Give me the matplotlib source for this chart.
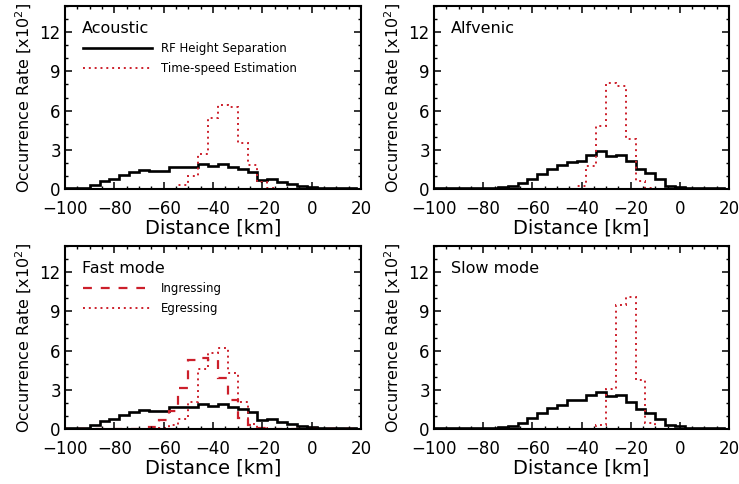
import numpy as np
import matplotlib
matplotlib.use("Agg")
from matplotlib import pyplot as plt
from matplotlib.ticker import MultipleLocator

plt.rcParams['font.family'] = ['DejaVu Sans']
plt.rcParams['axes.unicode_minus'] = True

# histogram bins: 4 km wide, centred on -100, -96, ..., 20
bin_edges = np.arange(-102, 23, 4)

# occurrence rate [x10^2], one value per bin
rf_acoustic = [0.08, 0.08, 0.1, 0.33, 0.64, 0.8, 1.05, 1.28, 1.44, 1.38, 1.38,
               1.67, 1.67, 1.67, 1.92, 1.78, 1.92, 1.72, 1.5, 1.28, 0.72,
               0.8, 0.55, 0.35, 0.2, 0.12, 0.08, 0.06, 0.05, 0.04, 0.03]
ts_acoustic = [0.02, 0.02, 0.02, 0.02, 0.02, 0.02, 0.02, 0.02, 0.02, 0.02, 0.02,
               0.02, 0.3, 1.0, 2.7, 5.4, 6.45, 6.25, 3.5, 1.8, 0.5,
               0.08, 0.02, 0.02, 0.02, 0.02, 0.02, 0.02, 0.02, 0.02, 0.02]

rf_alfvenic = [0.05, 0.05, 0.06, 0.07, 0.08, 0.08, 0.1, 0.12, 0.23, 0.44, 0.8,
               1.15, 1.5, 1.85, 2.1, 2.15, 2.6, 2.87, 2.55, 2.6, 2.15,
               1.5, 1.25, 0.75, 0.25, 0.18, 0.1, 0.08, 0.05, 0.04, 0.03]
ts_alfvenic = [0.02, 0.02, 0.02, 0.02, 0.02, 0.02, 0.02, 0.02, 0.02, 0.02, 0.02,
               0.02, 0.02, 0.02, 0.02, 0.2, 1.75, 4.8, 8.1, 7.9, 3.8,
               0.6, 0.1, 0.02, 0.02, 0.02, 0.02, 0.02, 0.02, 0.02, 0.02]

rf_fast = rf_acoustic
ingress_fast = [0.02, 0.02, 0.02, 0.02, 0.02, 0.02, 0.02, 0.02, 0.02, 0.15, 0.7,
                1.35, 3.1, 5.3, 5.4, 5.25, 3.9, 2.25, 0.85, 0.3, 0.05,
                0.02, 0.02, 0.02, 0.02, 0.02, 0.02, 0.02, 0.02, 0.02, 0.02]
egress_fast = [0.02, 0.02, 0.02, 0.02, 0.02, 0.02, 0.02, 0.02, 0.02, 0.02, 0.1,
               0.3, 0.8, 2.1, 4.6, 5.8, 6.2, 4.3, 2.1, 0.4, 0.1,
               0.02, 0.02, 0.02, 0.02, 0.02, 0.02, 0.02, 0.02, 0.02, 0.02]

rf_slow = [0.05, 0.05, 0.06, 0.07, 0.08, 0.08, 0.1, 0.12, 0.25, 0.45, 0.85,
           1.2, 1.6, 1.85, 2.2, 2.2, 2.6, 2.8, 2.55, 2.6, 2.1,
           1.5, 1.2, 0.75, 0.3, 0.2, 0.1, 0.08, 0.05, 0.04, 0.03]
ts_slow = [0.02, 0.02, 0.02, 0.02, 0.02, 0.02, 0.02, 0.02, 0.02, 0.02, 0.02,
           0.02, 0.02, 0.02, 0.02, 0.02, 0.02, 0.3, 3.05, 9.45, 10.1,
           3.77, 0.45, 0.02, 0.02, 0.02, 0.02, 0.02, 0.02, 0.02, 0.02]

RED = '#cc1f2b'
DOT = (0, (1, 2))
DASH = (0, (4, 4))

fig = plt.figure(figsize=(7.39, 4.84), dpi=100)
W, H = 739, 484

def make_axes(left, right, top, bottom):
    return fig.add_axes([left / W, 1 - bottom / H, (right - left) / W, (bottom - top) / H])

def style(ax, title):
    ax.set_xlim(-100, 20)
    ax.set_ylim(0, 14)
    ax.xaxis.set_major_locator(MultipleLocator(20))
    ax.xaxis.set_minor_locator(MultipleLocator(5))
    ax.yaxis.set_major_locator(MultipleLocator(3))
    ax.yaxis.set_minor_locator(MultipleLocator(1))
    ax.tick_params(which='both', direction='in', top=True, right=True, labelsize=12)
    ax.tick_params(which='major', length=5, width=1.1)
    ax.tick_params(which='minor', length=2.5, width=1)
    ax.tick_params(axis='x', pad=8)
    ax.tick_params(axis='y', pad=3)
    for s in ax.spines.values():
        s.set_linewidth(1.5)
    ax.set_xlabel('Distance [km]', fontsize=14, labelpad=0)
    ax.set_ylabel('Occurrence Rate [x10$^2$]', fontsize=11.5, labelpad=4)
    ax.text(0.057, 0.878, title, transform=ax.transAxes, fontsize=11.5, va='center', ha='left')

def legend_entry(ax, y, label, ls, color, lw, x1=0.294):
    ax.plot([0.06, x1], [y, y], transform=ax.transAxes, color=color, ls=ls, lw=lw)
    ax.text(0.325, y, label, transform=ax.transAxes, fontsize=8.5, va='center', ha='left')

# Acoustic
ax1 = make_axes(65, 361, 6, 189)
ax1.stairs(rf_acoustic, bin_edges, color='black', lw=1.9, baseline=None)
ax1.stairs(ts_acoustic, bin_edges, color=RED, lw=1.4, ls=DOT, baseline=None)
style(ax1, 'Acoustic')
legend_entry(ax1, 0.769, 'RF Height Separation', '-', 'black', 1.9)
legend_entry(ax1, 0.66, 'Time-speed Estimation', DOT, RED, 1.4)

# Alfvenic
ax2 = make_axes(434, 729, 6, 189)
ax2.stairs(rf_alfvenic, bin_edges, color='black', lw=1.9, baseline=None)
ax2.stairs(ts_alfvenic, bin_edges, color=RED, lw=1.4, ls=DOT, baseline=None)
style(ax2, 'Alfvenic')

# Fast mode
ax3 = make_axes(65, 361, 246, 429)
ax3.stairs(rf_fast, bin_edges, color='black', lw=1.9, baseline=None)
ax3.stairs(ingress_fast, bin_edges, color=RED, lw=1.6, ls=DASH, baseline=None)
ax3.stairs(egress_fast, bin_edges, color=RED, lw=1.4, ls=DOT, baseline=None)
style(ax3, 'Fast mode')
legend_entry(ax3, 0.769, 'Ingressing', DASH, RED, 1.6, x1=0.27)
legend_entry(ax3, 0.66, 'Egressing', DOT, RED, 1.4)

# Slow mode
ax4 = make_axes(434, 729, 246, 429)
ax4.stairs(rf_slow, bin_edges, color='black', lw=1.9, baseline=None)
ax4.stairs(ts_slow, bin_edges, color=RED, lw=1.4, ls=DOT, baseline=None)
style(ax4, 'Slow mode')

fig.savefig('out.png', dpi=100)
